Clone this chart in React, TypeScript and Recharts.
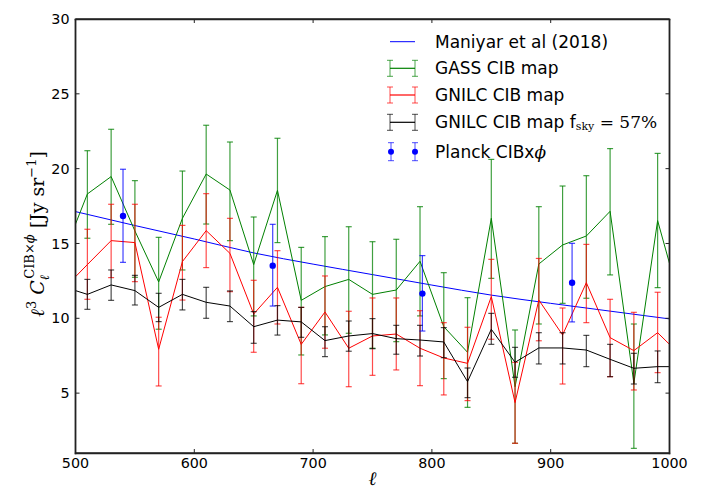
import React from 'react';
import { ComposedChart, Line, Scatter, XAxis, YAxis, ErrorBar, ReferenceLine } from 'recharts';

// multipole bins
const ELL = [510, 530, 550, 570, 590, 610, 630, 650, 670, 690, 710, 730, 750, 770, 790, 810, 830, 850, 870, 890, 910, 930, 950, 970, 990];
const EDGE_ELL = [500, 1000];

// GASS CIB map
const GASS = [18.31, 19.47, 15.84, 12.43, 16.68, 19.64, 18.57, 13.59, 18.55, 11.2, 12.12, 12.6, 11.6, 11.89, 13.81, 9.44, 7.73, 16.68, 5.43, 13.63, 14.9, 15.5, 17.15, 5.66, 16.53];
const GASS_LO = [15.35, 16.28, 12.74, 9.27, 13.23, 16.3, 15.19, 10.16, 15.06, 7.55, 8.89, 9.0, 8.0, 8.44, 10.16, 5.97, 4.05, 12.67, 1.65, 9.62, 11.0, 11.34, 12.9, 1.31, 12.05];
const GASS_HI = [21.2, 22.63, 19.2, 15.41, 19.84, 22.9, 21.78, 16.77, 22.03, 14.74, 15.46, 16.12, 15.12, 15.28, 17.46, 13.05, 11.38, 20.62, 9.22, 17.46, 18.84, 19.53, 21.34, 9.62, 21.02];
const GASS_EDGE = [16.3, 13.67];

// GNILC CIB map
const GNILC = [13.59, 15.19, 15.06, 7.93, 13.79, 15.86, 14.34, 10.29, 12.07, 8.26, 10.42, 8.0, 8.82, 8.95, 8.0, 7.35, 6.99, 11.45, 4.37, 11.22, 8.89, 12.38, 8.71, 7.84, 9.04];
const GNILC_LO = [11.27, 12.72, 12.45, 5.48, 11.22, 13.39, 11.78, 7.73, 9.62, 5.63, 8.0, 5.43, 6.19, 6.55, 5.5, 4.88, 4.5, 8.6, 1.65, 8.5, 5.61, 9.71, 6.1, 5.21, 6.37];
const GNILC_HI = [15.95, 17.62, 17.62, 10.07, 16.21, 18.33, 16.68, 12.54, 14.52, 10.73, 12.83, 10.47, 11.36, 11.36, 10.51, 9.71, 9.4, 13.94, 7.06, 14.0, 10.69, 14.94, 11.27, 10.4, 11.74];
const GNILC_EDGE = [12.78, 8.26];

// GNILC CIB map fsky = 57%
const GNILC57 = [11.6, 12.23, 11.85, 10.73, 11.6, 11.07, 10.82, 9.44, 9.88, 9.76, 8.51, 8.82, 8.98, 8.64, 8.55, 8.42, 5.77, 9.27, 7.06, 8.02, 8.02, 7.88, 7.26, 6.66, 6.77];
const GNILC57_LO = [10.6, 11.2, 10.89, 9.78, 10.56, 10.0, 9.78, 8.33, 8.88, 8.73, 7.44, 7.8, 7.97, 7.6, 7.48, 7.37, 4.7, 8.26, 6.06, 6.95, 6.95, 6.77, 6.1, 5.61, 5.7];
const GNILC57_HI = [12.6, 13.23, 12.87, 11.67, 12.6, 12.07, 11.83, 10.45, 10.85, 10.73, 9.44, 9.82, 9.98, 9.53, 9.53, 9.38, 6.68, 10.33, 8.06, 9.04, 9.04, 8.86, 8.26, 7.66, 7.82];
const GNILC57_EDGE = [11.85, 6.77];

// Planck CIB x phi
const PLANCK_ELL = [540, 666, 792, 918];
const PLANCK = [16.84, 13.52, 11.65, 12.38];
const PLANCK_LO = [13.74, 10.82, 9.15, 9.76];
const PLANCK_HI = [19.96, 16.28, 14.19, 15.01];

// Maniyar et al (2018) model
const MODEL_ELL = [500, 550, 600, 650, 700, 750, 800, 850, 900, 950, 1000];
const MODEL = [17.13, 16.2, 15.3, 14.37, 13.62, 12.92, 12.22, 11.55, 11.0, 10.48, 9.96];

const X_TICKS = [500, 600, 700, 800, 900, 1000];
const Y_TICKS = [5, 10, 15, 20, 25, 30];
const X_DOMAIN = [500, 1000];
const Y_DOMAIN = [1, 30];

const GREEN = '#008000';
const RED = '#ff0000';
const BLACK = '#000000';
const BLUE = '#0000ff';

function buildSeries(vals: number[], lo: number[], hi: number[], edge: number[]) {
  const pts: any[] = [{ l: EDGE_ELL[0], v: edge[0] }];
  ELL.forEach((l, i) => pts.push({ l, v: vals[i], err: [vals[i] - lo[i], hi[i] - vals[i]] }));
  pts.push({ l: EDGE_ELL[1], v: edge[1] });
  return pts;
}

const gassData = buildSeries(GASS, GASS_LO, GASS_HI, GASS_EDGE);
const gnilcData = buildSeries(GNILC, GNILC_LO, GNILC_HI, GNILC_EDGE);
const gnilc57Data = buildSeries(GNILC57, GNILC57_LO, GNILC57_HI, GNILC57_EDGE);
const planckData = PLANCK_ELL.map((l, i) => ({ l, v: PLANCK[i], err: [PLANCK[i] - PLANCK_LO[i], PLANCK_HI[i] - PLANCK[i]] }));
const modelData = MODEL_ELL.map((l, i) => ({ l, v: MODEL[i] }));

const SANS = 'DejaVu Sans';
const SERIF = 'DejaVu Serif';
const AXIS = '#222';

// chart geometry (svg coordinates)
const W = 693;
const H = 483;
const MARGIN = { top: 11, right: 31.5, left: 0, bottom: 0 };
const Y_AXIS_W = 67.5;
const X_AXIS_H = 38;
const PLOT = { left: Y_AXIS_W, right: W - MARGIN.right, top: MARGIN.top, bottom: H - X_AXIS_H };
const TICK_LEN = 4;
const LABEL_GAP_X = 5;
const LABEL_GAP_Y = 6;

const LegendBox = () => {
  const rows = [16.7, 43.3, 70, 97.3, 126.7];
  const x0 = 20, x1 = 45, tx = 65;
  const eb = (y: number, c: string) => (
    <g stroke={c}>
      <line x1={x0} x2={x1} y1={y} y2={y} strokeWidth={1.2} />
      <line x1={x0} x2={x0} y1={y - 8} y2={y + 8} strokeOpacity={0.7} />
      <line x1={x1} x2={x1} y1={y - 8} y2={y + 8} strokeOpacity={0.7} />
      <line x1={x0 - 3} x2={x0 + 3} y1={y - 8} y2={y - 8} strokeOpacity={0.7} />
      <line x1={x0 - 3} x2={x0 + 3} y1={y + 8} y2={y + 8} strokeOpacity={0.7} />
      <line x1={x1 - 3} x2={x1 + 3} y1={y - 8} y2={y - 8} strokeOpacity={0.7} />
      <line x1={x1 - 3} x2={x1 + 3} y1={y + 8} y2={y + 8} strokeOpacity={0.7} />
    </g>
  );
  const txt = { fontFamily: SANS, fontSize: 17, fill: '#000', dominantBaseline: 'central' as const };
  return (
    <svg width={310} height={145} style={{ position: 'absolute', top: 17, left: 362, display: 'block', overflow: 'visible', pointerEvents: 'none' }}>
      <line x1={x0} x2={x1} y1={rows[0]} y2={rows[0]} stroke={BLUE} strokeWidth={1} />
      <text x={tx} y={rows[0]} {...txt}>Maniyar et al (2018)</text>
      {eb(rows[1], GREEN)}
      <text x={tx} y={rows[1]} {...txt}>GASS CIB map</text>
      {eb(rows[2], RED)}
      <text x={tx} y={rows[2]} {...txt}>GNILC CIB map</text>
      {eb(rows[3], BLACK)}
      <text x={tx} y={rows[3]} {...txt}>
        GNILC CIB map f
        <tspan fontFamily={SERIF} fontSize={11} dy={4}>sky</tspan>
        <tspan fontFamily={SERIF} dy={-4}> = 57%</tspan>
      </text>
      {[x0 + 1, x1].map((x) => (
        <g key={x}>
          <line x1={x} x2={x} y1={rows[4] - 9} y2={rows[4] + 9} stroke={BLUE} strokeOpacity={0.7} />
          <line x1={x - 3} x2={x + 3} y1={rows[4] - 9} y2={rows[4] - 9} stroke={BLUE} strokeOpacity={0.7} />
          <line x1={x - 3} x2={x + 3} y1={rows[4] + 9} y2={rows[4] + 9} stroke={BLUE} strokeOpacity={0.7} />
          <circle cx={x} cy={rows[4]} r={3} fill={BLUE} />
        </g>
      ))}
      <text x={tx} y={rows[4]} {...txt}>
        Planck CIBx<tspan fontFamily={SERIF} fontStyle="italic">ϕ</tspan>
      </text>
    </svg>
  );
};

// plot frame drawn on top of the chart, as four separate crisp lines
const Frame = () => {
  const l = Math.floor(PLOT.left) + 0.5;
  const r = Math.floor(PLOT.right) + 0.5;
  const t = Math.floor(PLOT.top) + 0.5;
  const b = Math.floor(PLOT.bottom) + 0.5;
  return (
    <svg width={W} height={H} style={{ position: 'absolute', top: 0, left: 0, pointerEvents: 'none', overflow: 'visible' }}>
      <g stroke={AXIS} strokeWidth={1.6} strokeLinecap="square">
        <line x1={l} x2={l} y1={t} y2={b} />
        <line x1={r} x2={r} y1={t} y2={b} />
        <line x1={l} x2={r} y1={t} y2={t} />
        <line x1={l} x2={r} y1={b} y2={b} />
      </g>
    </svg>
  );
};

const YLabel = () => (
  <text transform="translate(36,226) rotate(-90)" textAnchor="middle" fontFamily={SERIF} fontSize={19} fill="#000">
    <tspan fontStyle="italic">ℓ</tspan>
    <tspan fontSize={13} dy={-8}>3</tspan>
    <tspan dy={8} fontStyle="italic"> C</tspan>
    <tspan fontSize={13} fontStyle="italic" dy={5}>ℓ</tspan>
    <tspan fontSize={13} dx={-4} dy={-15}>CIB×</tspan>
    <tspan fontSize={13} fontStyle="italic">ϕ</tspan>
    <tspan dy={10}> [Jy sr</tspan>
    <tspan fontSize={13} dy={-8}>−1</tspan>
    <tspan dy={8}>]</tspan>
  </text>
);

const XLabel = () => (
  <text x={(PLOT.left + PLOT.right) / 2} y={477} textAnchor="middle" fontFamily={SERIF} fontStyle="italic" fontSize={19} fill="#000">ℓ</text>
);

const XTick = (p: any) => {
  const x = p.x;
  const inner = p.payload.value !== X_DOMAIN[0] && p.payload.value !== X_DOMAIN[1];
  return (
    <g>
      {inner && <line x1={x} x2={x} y1={PLOT.bottom} y2={PLOT.bottom - TICK_LEN} stroke={AXIS} />}
      {inner && <line x1={x} x2={x} y1={PLOT.top} y2={PLOT.top + TICK_LEN} stroke={AXIS} />}
      <text x={x} y={PLOT.bottom + LABEL_GAP_X} dy="0.71em" textAnchor="middle" fontFamily={SANS} fontSize={14.3} fill="#000">
        {p.payload.value}
      </text>
    </g>
  );
};

const YTick = (p: any) => {
  const y = p.y;
  const inner = p.payload.value !== Y_DOMAIN[0] && p.payload.value !== Y_DOMAIN[1];
  return (
    <g>
      {inner && <line x1={PLOT.left} x2={PLOT.left + TICK_LEN} y1={y} y2={y} stroke={AXIS} />}
      {inner && <line x1={PLOT.right} x2={PLOT.right - TICK_LEN} y1={y} y2={y} stroke={AXIS} />}
      <text x={PLOT.left - LABEL_GAP_Y} y={y} dy="0.355em" textAnchor="end" fontFamily={SANS} fontSize={14.3} fill="#000">
        {p.payload.value}
      </text>
    </g>
  );
};

const FRAME = { stroke: AXIS, strokeWidth: 1.3, ifOverflow: 'visible' as const };

export default function App() {
  return (
    <div style={{ position: 'relative', width: W, height: H }}>
      <ComposedChart width={W} height={H} margin={MARGIN}>
        <XAxis
          type="number"
          dataKey="l"
          domain={X_DOMAIN}
          ticks={X_TICKS}
          allowDataOverflow
          height={X_AXIS_H}
          tickLine={false}
          tickSize={0}
          tickMargin={LABEL_GAP_X}
          tick={<XTick />}
          axisLine={{ stroke: AXIS, strokeWidth: 1.3 }}
          label={{ content: () => <XLabel /> }}
        />
        <YAxis
          type="number"
          domain={Y_DOMAIN}
          ticks={Y_TICKS}
          allowDataOverflow
          width={Y_AXIS_W}
          tickLine={false}
          tickSize={0}
          tickMargin={LABEL_GAP_Y}
          tick={<YTick />}
          axisLine={{ stroke: AXIS, strokeWidth: 1.3 }}
          label={{ content: () => <YLabel /> }}
        />

        <Line data={modelData} dataKey="v" type="monotone" stroke={BLUE} strokeWidth={1} dot={false} isAnimationActive={false} name="Maniyar et al (2018)" />
        <Line data={gassData} dataKey="v" type="linear" stroke={GREEN} strokeWidth={1} dot={false} isAnimationActive={false} name="GASS CIB map">
          <ErrorBar dataKey="err" direction="y" width={3} stroke={GREEN} strokeOpacity={0.75} strokeWidth={1.2} isAnimationActive={false} />
        </Line>
        <Line data={gnilcData} dataKey="v" type="linear" stroke={RED} strokeWidth={1} dot={false} isAnimationActive={false} name="GNILC CIB map">
          <ErrorBar dataKey="err" direction="y" width={3} stroke={RED} strokeOpacity={0.7} strokeWidth={1.2} isAnimationActive={false} />
        </Line>
        <Line data={gnilc57Data} dataKey="v" type="linear" stroke={BLACK} strokeWidth={1} dot={false} isAnimationActive={false} name="GNILC CIB map fsky=57%">
          <ErrorBar dataKey="err" direction="y" width={3} stroke={BLACK} strokeOpacity={0.7} strokeWidth={1.2} isAnimationActive={false} />
        </Line>
        <Scatter
          data={planckData}
          dataKey="v"
          fill={BLUE}
          isAnimationActive={false}
          name="Planck CIBxϕ"
          shape={(p: any) => <circle cx={p.cx} cy={p.cy} r={3.2} fill={BLUE} />}
        >
          <ErrorBar dataKey="err" direction="y" width={3} stroke={BLUE} strokeOpacity={0.75} strokeWidth={1.2} isAnimationActive={false} />
        </Scatter>

        <ReferenceLine x={X_DOMAIN[1]} {...FRAME} />
        <ReferenceLine y={Y_DOMAIN[1]} {...FRAME} />
      </ComposedChart>
      <Frame />
      <LegendBox />
    </div>
  );
}
